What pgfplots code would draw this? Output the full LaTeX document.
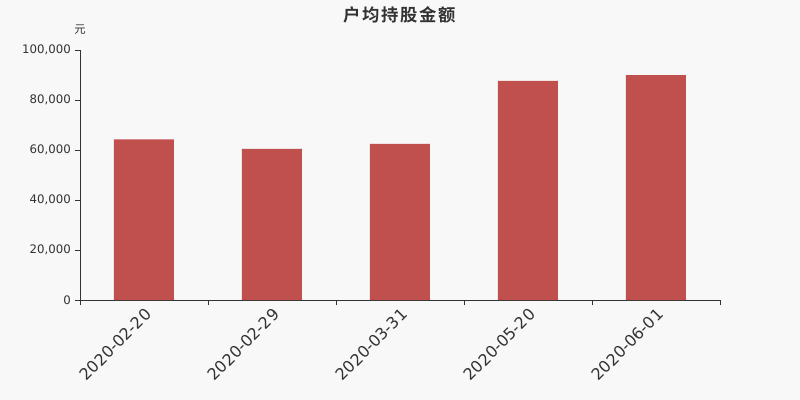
\documentclass[border=0pt]{standalone}
\usepackage{pgfplots}
\pgfplotsset{compat=1.18}
\usepackage{fontspec}
\setmainfont{DejaVu Sans}
\newfontfamily\cjk{Noto Sans CJK SC}
\newfontfamily\cjkb[LetterSpace=10]{Noto Sans CJK SC Bold}
\definecolor{bg}{HTML}{F8F8F8}
\definecolor{barred}{HTML}{C0504D}
\definecolor{txt}{HTML}{333333}
\begin{document}
\begin{tikzpicture}
\fill[bg] (-60pt,-75pt) rectangle (540pt,225pt);
\path[use as bounding box] (-60pt,-75pt) rectangle (540pt,225pt);
\begin{axis}[
  at={(0pt,0pt)}, anchor=south west,
  scale only axis, width=480pt, height=187.5pt,
  xmin=-0.5, xmax=4.5, ymin=0, ymax=100000,
  axis lines=left, axis line style={draw=txt, -},
  ybar, bar width=45pt,
  xtick={0,1,2,3,4},
  xticklabels={2020-02-20,2020-02-29,2020-03-31,2020-05-20,2020-06-01},
  major x tick style={draw=none},
  minor xtick={-0.5,0.5,1.5,2.5,3.5,4.5},
  minor x tick style={draw=txt},
  minor tick length=3.75pt,
  ytick={0,20000,40000,60000,80000,100000},
  yticklabels={0,{20,000},{40,000},{60,000},{80,000},{100,000}},
  major tick length=3.75pt,
  tick align=outside,
  ytick style={draw=txt},
  scaled y ticks=false,
  yticklabel style={font=\fontsize{8.8pt}{10pt}\selectfont, text=txt, inner sep=1pt, xshift=-2pt},
  xticklabel style={font=\fontsize{12pt}{14pt}\selectfont, text=txt, rotate=45, anchor=north east, inner sep=1pt},
]
\addplot[fill=barred, draw=none] coordinates {
  (0,64200) (1,60400) (2,62400) (3,87600) (4,89900)};
\end{axis}
\node[font=\cjkb\fontsize{13pt}{15pt}\selectfont, text=txt] at (240pt,214pt) {户均持股金额};
\node[font=\cjk\fontsize{8.5pt}{10pt}\selectfont, text=txt] at (0pt,202.5pt) {元};
\end{tikzpicture}
\end{document}
